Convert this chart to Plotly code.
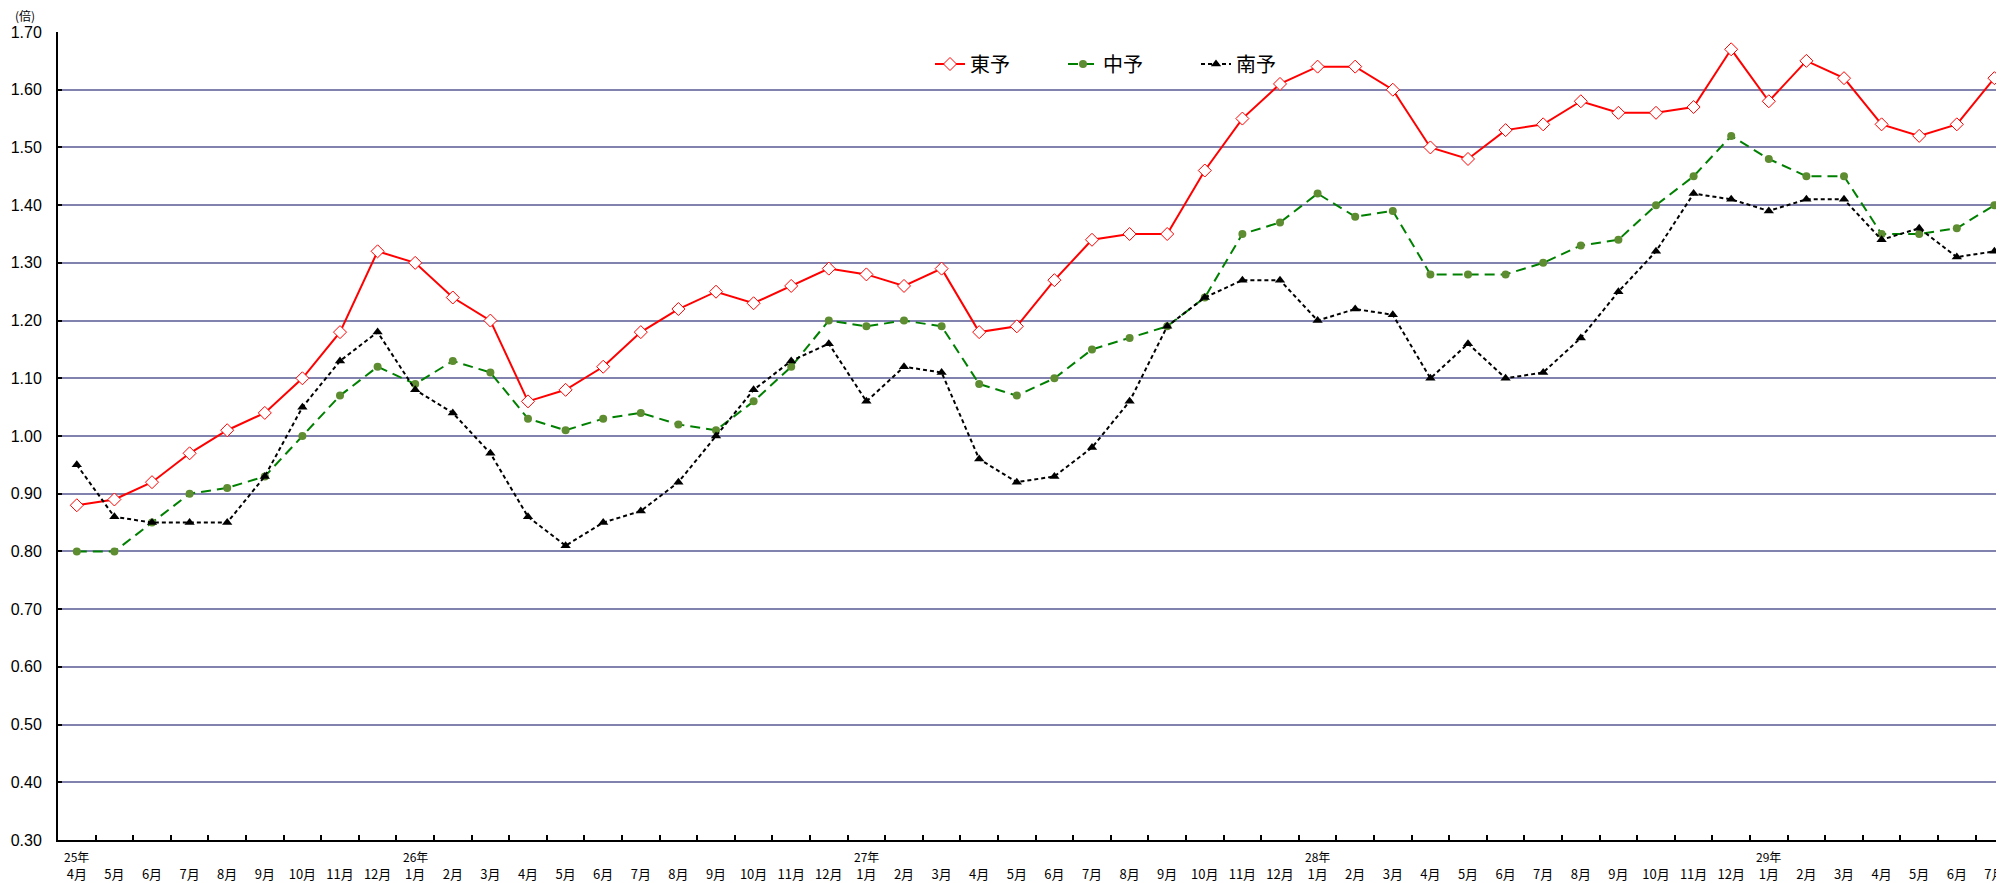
import plotly.graph_objects as go

months = ["4月", "5月", "6月", "7月", "8月", "9月", "10月", "11月", "12月", "1月", "2月", "3月"] * 4 + ["4月", "5月", "6月", "7月"]
year_labels = {0: "25年", 9: "26年", 21: "27年", 33: "28年", 45: "29年"}

toyo = [0.88, 0.89, 0.92, 0.97, 1.01, 1.04, 1.10, 1.18, 1.32, 1.30, 1.24, 1.20,
        1.06, 1.08, 1.12, 1.18, 1.22, 1.25, 1.23, 1.26, 1.29, 1.28, 1.26, 1.29,
        1.18, 1.19, 1.27, 1.34, 1.35, 1.35, 1.46, 1.55, 1.61, 1.64, 1.64, 1.60,
        1.50, 1.48, 1.53, 1.54, 1.58, 1.56, 1.56, 1.57, 1.67, 1.58, 1.65, 1.62,
        1.54, 1.52, 1.54, 1.62]
chuyo = [0.80, 0.80, 0.85, 0.90, 0.91, 0.93, 1.00, 1.07, 1.12, 1.09, 1.13, 1.11,
         1.03, 1.01, 1.03, 1.04, 1.02, 1.01, 1.06, 1.12, 1.20, 1.19, 1.20, 1.19,
         1.09, 1.07, 1.10, 1.15, 1.17, 1.19, 1.24, 1.35, 1.37, 1.42, 1.38, 1.39,
         1.28, 1.28, 1.28, 1.30, 1.33, 1.34, 1.40, 1.45, 1.52, 1.48, 1.45, 1.45,
         1.35, 1.35, 1.36, 1.40]
nanyo = [0.95, 0.86, 0.85, 0.85, 0.85, 0.93, 1.05, 1.13, 1.18, 1.08, 1.04, 0.97,
         0.86, 0.81, 0.85, 0.87, 0.92, 1.00, 1.08, 1.13, 1.16, 1.06, 1.12, 1.11,
         0.96, 0.92, 0.93, 0.98, 1.06, 1.19, 1.24, 1.27, 1.27, 1.20, 1.22, 1.21,
         1.10, 1.16, 1.10, 1.11, 1.17, 1.25, 1.32, 1.42, 1.41, 1.39, 1.41, 1.41,
         1.34, 1.36, 1.31, 1.32]

x = list(range(len(months)))
FONT = "Liberation Sans, Arial, Noto Sans CJK JP"
CJK = "Noto Sans CJK JP, Liberation Sans"

# page body has an 8px margin: figure is placed at (8, 8) in the window
W, H = 1996, 875
ML, MT = 50, 24
PW, PH = W - ML, 808

fig = go.Figure()
fig.add_trace(go.Scatter(
    x=x, y=toyo, name="東予", mode="lines+markers",
    line=dict(color="#FF0000", width=2),
    marker=dict(symbol="diamond", size=10, color="white", line=dict(color="#FF0000", width=1)),
    cliponaxis=False))
fig.add_trace(go.Scatter(
    x=x, y=chuyo, name="中予", mode="lines+markers",
    line=dict(color="#008000", width=2, dash="10px,6px"),
    marker=dict(symbol="circle", size=8, color="#5E8C31", line=dict(width=0)),
    cliponaxis=False))
fig.add_trace(go.Scatter(
    x=x, y=nanyo, name="南予", mode="lines+markers",
    line=dict(color="#000000", width=2, dash="4px,3px"),
    marker=dict(symbol="triangle-up", size=9, color="#000000", line=dict(width=0)),
    cliponaxis=False))

annotations = []
for i, lab in year_labels.items():
    annotations.append(dict(x=i, y=-17 / PH, xref="x", yref="paper", text=lab, showarrow=False,
                            xanchor="center", yanchor="middle", font=dict(family=CJK, size=12, color="black")))
annotations.append(dict(x=-(ML - 17) / PW, y=(PH + MT - 7) / PH, xref="paper", yref="paper", text="(倍)",
                        showarrow=False, xanchor="center", yanchor="middle",
                        font=dict(family=CJK, size=12, color="black")))

fig.update_layout(
    width=W, height=H,
    margin=dict(l=ML, r=0, t=MT, b=H - MT - PH),
    plot_bgcolor="white", paper_bgcolor="white",
    showlegend=True,
    legend=dict(orientation="h", x=(930 - 58) / PW, y=(PH - 32) / PH, xanchor="left", yanchor="middle",
                entrywidth=88, entrywidthmode="pixels", bgcolor="rgba(0,0,0,0)",
                font=dict(family=CJK, size=20, color="black"), itemwidth=30),
    xaxis=dict(range=[-0.5, -0.5 + PW / 37.6], tickmode="array", tickvals=x, ticktext=months,
               showgrid=False, zeroline=False, showline=True, linecolor="black", linewidth=2,
               ticks="inside", ticklen=0, ticklabelstandoff=21, ticklabeloverflow="allow",
               tickfont=dict(family=CJK, size=13, color="black"),
               minor=dict(tick0=0.5, dtick=1, ticks="inside", ticklen=5, tickwidth=2, tickcolor="black", showgrid=False)),
    yaxis=dict(range=[0.3, 1.7], dtick=0.1, tick0=0.3, tickformat=".2f",
               showgrid=True, gridcolor="#8282AE", gridwidth=1.5, zeroline=False,
               showline=True, linecolor="black", linewidth=2,
               ticks="inside", ticklen=4, tickwidth=2, tickcolor="black", ticklabelstandoff=11,
               tickfont=dict(family=FONT, size=16, color="black")),
    annotations=annotations,
)

fig.write_html("out.html")
